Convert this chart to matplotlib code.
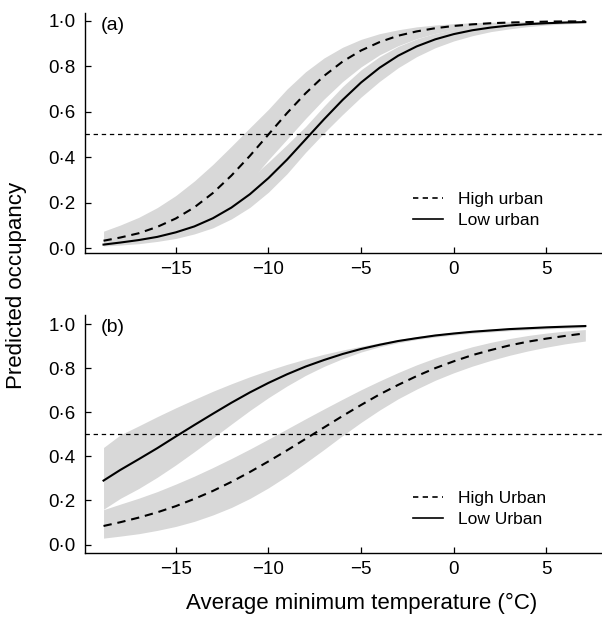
import matplotlib
matplotlib.use("Agg")
import matplotlib.pyplot as plt
from matplotlib.lines import Line2D

plt.rcParams['font.family'] = ['Liberation Sans', 'DejaVu Sans']

temps = [-18.9, -18, -17, -16, -15, -14, -13, -12, -11, -10, -9, -8, -7,
         -6, -5, -4, -3, -2, -1, 0, 1, 2, 3, 4, 5, 6, 7.1]

# panel (a)
a_high = [0.032, 0.046, 0.065, 0.093, 0.130, 0.179, 0.242, 0.319, 0.406, 0.500,
          0.594, 0.681, 0.758, 0.821, 0.870, 0.907, 0.935, 0.954, 0.968, 0.978,
          0.985, 0.990, 0.993, 0.995, 0.997, 0.998, 0.998]
a_high_up = [0.074, 0.101, 0.135, 0.178, 0.231, 0.295, 0.368, 0.448, 0.530, 0.611,
             0.700, 0.776, 0.837, 0.884, 0.919, 0.944, 0.961, 0.974, 0.982, 0.988,
             0.992, 0.994, 0.996, 0.997, 0.998, 0.999, 0.999]
a_high_lo = [0.013, 0.020, 0.030, 0.046, 0.069, 0.102, 0.149, 0.212, 0.293, 0.389,
             0.479, 0.570, 0.656, 0.733, 0.798, 0.851, 0.891, 0.922, 0.945, 0.961,
             0.972, 0.981, 0.987, 0.991, 0.993, 0.995, 0.997]
a_low = [0.015, 0.024, 0.035, 0.049, 0.069, 0.095, 0.131, 0.178, 0.237, 0.308,
         0.389, 0.478, 0.567, 0.652, 0.729, 0.794, 0.847, 0.888, 0.919, 0.942,
         0.959, 0.971, 0.980, 0.986, 0.990, 0.993, 0.995]
a_low_up = [0.033, 0.045, 0.061, 0.082, 0.109, 0.144, 0.188, 0.242, 0.306, 0.378,
            0.455, 0.535, 0.625, 0.711, 0.785, 0.843, 0.888, 0.921, 0.945, 0.962,
            0.974, 0.982, 0.988, 0.992, 0.994, 0.996, 0.997]
a_low_lo = [0.009, 0.013, 0.019, 0.029, 0.042, 0.062, 0.089, 0.128, 0.179, 0.246,
            0.327, 0.421, 0.507, 0.588, 0.665, 0.734, 0.794, 0.843, 0.882, 0.912,
            0.935, 0.953, 0.965, 0.975, 0.982, 0.987, 0.991]

# panel (b)
b_high = [0.084, 0.101, 0.122, 0.146, 0.174, 0.207, 0.243, 0.284, 0.329, 0.377,
          0.427, 0.479, 0.531, 0.583, 0.633, 0.681, 0.724, 0.764, 0.800, 0.831,
          0.859, 0.882, 0.903, 0.920, 0.934, 0.946, 0.958]
b_high_up = [0.158, 0.183, 0.210, 0.240, 0.274, 0.310, 0.349, 0.390, 0.433, 0.478,
             0.524, 0.570, 0.615, 0.659, 0.702, 0.742, 0.780, 0.815, 0.846, 0.873,
             0.897, 0.917, 0.934, 0.948, 0.959, 0.968, 0.975]
b_high_lo = [0.029, 0.038, 0.049, 0.064, 0.082, 0.105, 0.134, 0.168, 0.209, 0.257,
             0.311, 0.370, 0.431, 0.494, 0.554, 0.610, 0.661, 0.705, 0.745, 0.779,
             0.809, 0.835, 0.858, 0.878, 0.895, 0.910, 0.923]
b_low = [0.290, 0.338, 0.387, 0.437, 0.490, 0.542, 0.593, 0.643, 0.690, 0.733,
         0.772, 0.807, 0.837, 0.864, 0.887, 0.906, 0.923, 0.936, 0.948, 0.957,
         0.965, 0.971, 0.977, 0.981, 0.985, 0.988, 0.991]
b_low_up = [0.440, 0.497, 0.538, 0.580, 0.620, 0.658, 0.695, 0.729, 0.761, 0.790,
            0.817, 0.841, 0.863, 0.882, 0.899, 0.915, 0.929, 0.943, 0.954, 0.963,
            0.971, 0.977, 0.982, 0.986, 0.989, 0.992, 0.993]
b_low_lo = [0.160, 0.209, 0.254, 0.305, 0.361, 0.421, 0.483, 0.546, 0.608, 0.666,
            0.719, 0.767, 0.808, 0.843, 0.873, 0.897, 0.915, 0.930, 0.941, 0.950,
            0.958, 0.964, 0.970, 0.974, 0.978, 0.981, 0.984]

yticks = [0.0, 0.2, 0.4, 0.6, 0.8, 1.0]
ytick_labels = ['0·0', '0·2', '0·4', '0·6', '0·8', '1·0']
xticks = [-15, -10, -5, 0, 5]

band = '#d8d8d8'

fig = plt.figure(figsize=(6.02, 6.17), dpi=100)
ax1 = fig.add_axes([85/602, 1-253/617, 517/602, 240/617])
ax2 = fig.add_axes([85/602, 1-553/617, 517/602, 238/617])

panels = [
    (ax1, '(a)', a_high, a_high_up, a_high_lo, a_low, a_low_up, a_low_lo,
     ['High urban', 'Low urban'], (-0.022, 1.035), 0.179),
    (ax2, '(b)', b_high, b_high_up, b_high_lo, b_low, b_low_up, b_low_lo,
     ['High Urban', 'Low Urban'], (-0.0385, 1.041), 0.185),
]

for ax, tag, hi, hi_up, hi_lo, lo, lo_up, lo_lo, labels, ylim, leg_y in panels:
    ax.fill_between(temps, hi_lo, hi_up, color=band, lw=0)
    ax.fill_between(temps, lo_lo, lo_up, color=band, lw=0)
    ax.axhline(0.5, color='black', lw=0.9, linestyle=(0, (3.5, 3)))
    ax.plot(temps, hi, color='black', lw=1.5, linestyle=(0, (4, 2.8)))
    ax.plot(temps, lo, color='black', lw=1.5)

    ax.set_xlim(-19.9, 8.0)
    ax.set_ylim(*ylim)
    ax.set_xticks(xticks)
    ax.set_yticks(yticks)
    ax.set_yticklabels(ytick_labels)
    ax.tick_params(direction='in', length=4, width=0.9, labelsize=13.5)
    ax.tick_params(axis='y', pad=7)
    ax.tick_params(axis='x', pad=6)
    for s in ['top', 'right']:
        ax.spines[s].set_visible(False)
    for s in ['left', 'bottom']:
        ax.spines[s].set_linewidth(1.0)

    ax.text(0.03, 0.985, tag, transform=ax.transAxes, ha='left', va='top', fontsize=14)

    # legend keys drawn with finer dashes, as in the original
    handles = [Line2D([], [], color='black', lw=1.2, linestyle=(0, (3.2, 2.6))),
               Line2D([], [], color='black', lw=1.2)]
    ax.legend(handles, labels, loc='center left', bbox_to_anchor=(0.634, leg_y),
              frameon=False, fontsize=12.5, handlelength=1.75, handletextpad=0.85,
              labelspacing=0.3, borderpad=0, borderaxespad=0)

fig.text(362/602, 1-603/617, 'Average minimum temperature (°C)', ha='center', va='center',
         fontsize=16)
fig.text(17/602, 1-285/617, 'Predicted occupancy', ha='center', va='center',
         rotation=90, fontsize=16)

fig.savefig('out.png', dpi=100)
